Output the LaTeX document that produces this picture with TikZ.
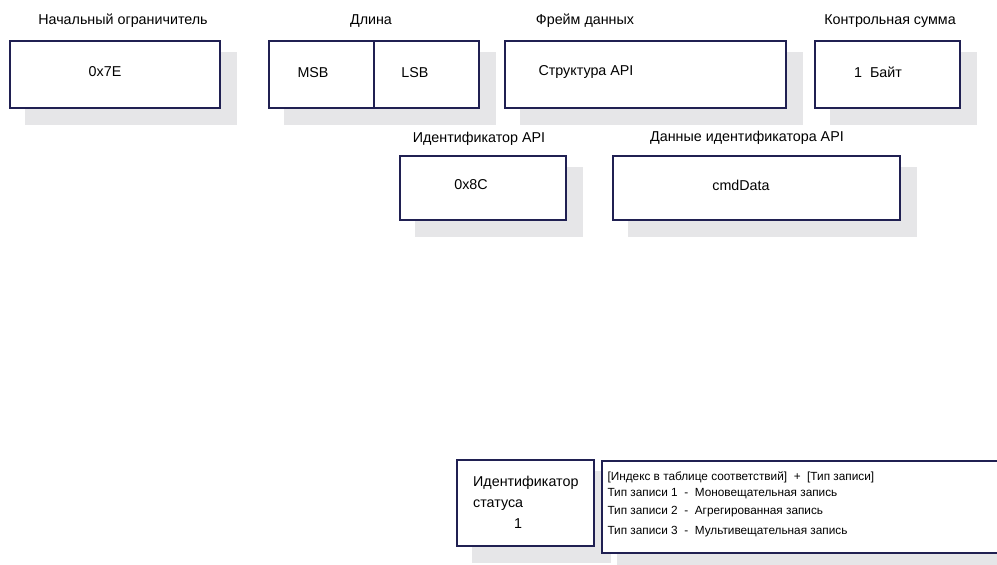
\documentclass[tikz,border=0pt]{standalone}
\usepackage{fontspec}
\setmainfont{Liberation Sans}
\usepackage{tikz}
\usetikzlibrary{calc}
\pgfdeclarelayer{background}
\pgfsetlayers{background,main}
\definecolor{framenavy}{RGB}{32,32,82}
\definecolor{shadowgray}{RGB}{230,230,232}
\tikzstyle{field}=[rectangle, draw=framenavy, fill=white
,line width=2pt
,inner sep=0pt
]
\tikzstyle{field shadow} = [fill=shadowgray]
\tikzstyle{caption} = [font=\fontsize{14.3}{16}\selectfont]
\tikzstyle{entry} = [font=\fontsize{14.3}{16}\selectfont]
\tikzstyle{small entry} = [font=\fontsize{11.8}{13}\selectfont, anchor=west]

\begin{document}
\begin{tikzpicture}[x=1pt,y=-1pt]
    \useasboundingbox (0,0) rectangle (997,565);
    % Draw the API frame fields
    % First we draw the boxes
    \foreach \pos/\w/\h/\name in {{(115,74.5)/210/67/start}, {(321.5,74.5)/105/67/msb}, {(426.5,74.5)/105/67/lsb},
        {(645.5,74.5)/281/67/frame}, {(887.5,74.5)/145/67/checksum},
        {(483,188)/166/64/apiid}, {(756.5,188)/287/64/apidata},
        {(525.5,503)/137/86/status}, {(807,507)/410/92/records}}
        \node[field, minimum width=\w pt, minimum height=\h pt] (\name) at \pos {};

    % Shadows behind the boxes
    \begin{pgfonlayer}{background}
    \foreach \name in {start, msb, lsb, frame, checksum, apiid, apidata, status, records}
        \fill[field shadow] ($(\name.north west)+(16,12)$) rectangle ($(\name.south east)+(16,16)$);
    \end{pgfonlayer}

    % Captions above the fields
    \foreach \pos/\name/\txt in {{(123,21)/start-cap/Начальный ограничитель}, {(371,21)/length-cap/Длина},
        {(585,21)/frame-cap/Фрейм данных}, {(890,21)/checksum-cap/Контрольная сумма},
        {(479,139)/apiid-cap/Идентификатор API}, {(747,138)/apidata-cap/Данные идентификатора API}}
        \node[caption] (\name) at \pos {\txt};

    % Contents of the fields
    \foreach \pos/\name/\txt in {{(105,72)/start-val/0x7E}, {(313,73)/msb-val/MSB}, {(415,73)/lsb-val/LSB},
        {(586,72)/frame-val/Структура API}, {(878,72)/checksum-val/1~~Байт},
        {(471,185)/apiid-val/0x8C}, {(741,185)/apidata-val/cmdData}}
        \node[entry] (\name) at \pos {\txt};

    \node[entry, align=left, anchor=north west, inner sep=0pt, font=\fontsize{14.3}{21}\selectfont] (status-val) at (473,476)
        {Идентификатор\\статуса\\\hspace*{41pt}1};

    % Record types
    \foreach \y/\name/\txt in {477/rec-head/{[Индекс в таблице соответствий]~~+~~[Тип записи]},
        494/rec-one/{Тип записи 1~~-~~Моновещательная запись},
        512/rec-two/{Тип записи 2~~-~~Агрегированная запись},
        532/rec-three/{Тип записи 3~~-~~Мультивещательная запись}}
        \node[small entry] (\name) at (604,\y) {\txt};
\end{tikzpicture}
\end{document}
